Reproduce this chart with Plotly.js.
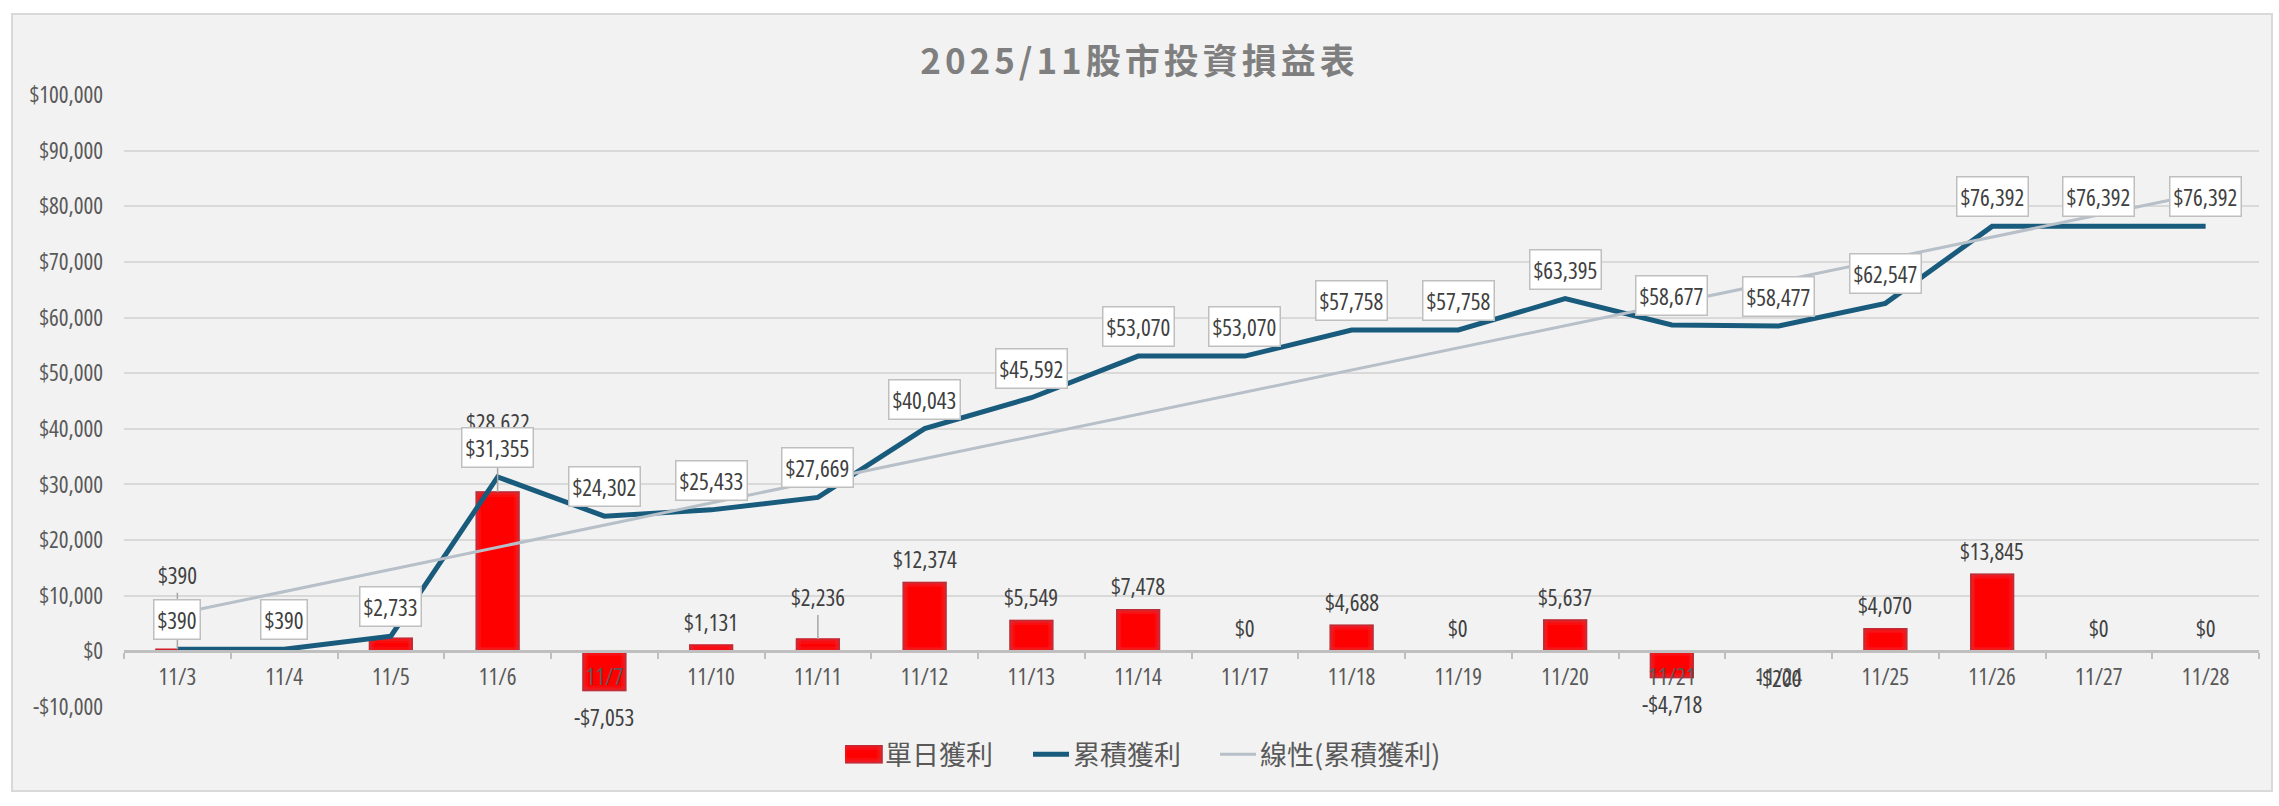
<!DOCTYPE html>
<html>
<head>
<meta charset="utf-8">
<script src="https://cdn.plot.ly/plotly-3.0.1.min.js"></script>
<style>
  html, body { margin: 0; padding: 0; background: #ffffff; }
  #chart { width: 2279px; height: 806px; }
  .gtitle { letter-spacing: 4px; }
  svg text { font-stretch: 77%; }
  .legendpoints path { d: path("M17,8.5H-23V-8.5H17Z"); }
  .legendlines path { d: path("M-6,0H36"); }
  .barlayer .point path, .legendpoints path { filter: url(#barShade); }
</style>
</head>
<body>
<svg width="0" height="0" style="position:absolute">
  <defs>
    <filter id="barShade" x="-20%" y="-20%" width="140%" height="140%">
      <feFlood flood-color="rgb(120,70,80)" flood-opacity="0.75" result="flood"/>
      <feComposite in="flood" in2="SourceAlpha" operator="out" result="outside"/>
      <feGaussianBlur in="outside" stdDeviation="3" result="blur"/>
      <feComposite in="blur" in2="SourceAlpha" operator="in" result="inner"/>
      <feMerge>
        <feMergeNode in="SourceGraphic"/>
        <feMergeNode in="inner"/>
      </feMerge>
    </filter>
  </defs>
</svg>
<div id="chart"></div>
<script>
// ---- data ----
const categories = ['11/3','11/4','11/5','11/6','11/7','11/10','11/11','11/12','11/13','11/14',
                    '11/17','11/18','11/19','11/20','11/21','11/24','11/25','11/26','11/27','11/28'];
const dailyProfit = [390, 0, 2343, 28622, -7053, 1131, 2236, 12374, 5549, 7478,
                     0, 4688, 0, 5637, -4718, -200, 4070, 13845, 0, 0];
const cumulativeProfit = [390, 390, 2733, 31355, 24302, 25433, 27669, 40043, 45592, 53070,
                          53070, 57758, 57758, 63395, 58677, 58477, 62547, 76392, 76392, 76392];
const trendCategories = ['11/3', '11/28'];
const trendValues = [6760, 82430];
const yTickValues = [-10000, 0, 10000, 20000, 30000, 40000, 50000, 60000, 70000, 80000, 90000, 100000];

// ---- styling (not data) ----
const numFont = "'Open Sans', sans-serif";
const cjkFont = "'Noto Sans CJK TC', 'Noto Sans', sans-serif";
const labelColor = '#404040';
const tickColor = '#595959';
const dailyLabelLift = { '11/3': 74, '11/6': 70, '11/11': 41.5 };

function fmt(v) {
  return (v < 0 ? '-' : '') + '$' + Math.abs(v).toLocaleString('en-US');
}

const traces = [
  {
    type: 'bar', name: '單日獲利', x: categories, y: dailyProfit, legend: 'legend',
    marker: { color: 'rgb(255,0,0)', line: { color: 'rgb(214,30,44)', width: 1.5 } },
    hoverinfo: 'skip'
  },
  {
    type: 'scatter', mode: 'lines', name: '累積獲利', x: categories, y: cumulativeProfit,
    legend: 'legend2', line: { color: '#195b7c', width: 5 }, hoverinfo: 'skip'
  },
  {
    type: 'scatter', mode: 'lines', name: '線性(累積獲利)', x: trendCategories, y: trendValues,
    legend: 'legend3', line: { color: '#b7bfc8', width: 3 }, hoverinfo: 'skip'
  }
];

const annotations = [];
categories.forEach(function (c, i) {
  const v = dailyProfit[i];
  const base = { x: c, y: v, xref: 'x', yref: 'y', text: fmt(v),
                 font: { family: numFont, size: 23, color: labelColor } };
  if (dailyLabelLift[c] !== undefined) {
    annotations.push(Object.assign(base, {
      showarrow: true, ax: 0, ay: -dailyLabelLift[c], arrowhead: 0, arrowwidth: 1.5,
      arrowcolor: '#a6a6a6', standoff: 0, startstandoff: 0
    }));
  } else {
    annotations.push(Object.assign(base, {
      showarrow: false, yanchor: 'middle', yshift: v < 0 ? -26 : 23.5
    }));
  }
});
categories.forEach(function (c, i) {
  const v = cumulativeProfit[i];
  annotations.push({
    x: c, y: v, xref: 'x', yref: 'y', text: fmt(v), showarrow: false,
    yanchor: 'middle', yshift: 29.5,
    font: { family: numFont, size: 23, color: labelColor },
    bgcolor: '#ffffff', bordercolor: '#bfbfbf', borderwidth: 1.5, borderpad: 3
  });
});

function legendAt(textLeftPx) {
  return {
    orientation: 'h', x: (textLeftPx - 42 - 124) / 2135, xanchor: 'left',
    y: -0.078, yanchor: 'middle',
    font: { family: cjkFont, size: 27, color: tickColor }, bgcolor: 'rgba(0,0,0,0)'
  };
}

const layout = {
  width: 2279, height: 806,
  margin: { l: 124, r: 20, t: 95, b: 99 },
  paper_bgcolor: '#ffffff',
  plot_bgcolor: 'rgba(0,0,0,0)',
  title: {
    text: '2025/11股市投資損益表',
    font: { family: cjkFont, size: 35, color: '#7f7f7f', weight: 'bold' },
    x: 0.5, xref: 'container', xanchor: 'center',
    y: 1 - 62 / 806, yref: 'container', yanchor: 'middle'
  },
  bargap: 0.6,
  showlegend: true,
  legend: legendAt(887),
  legend2: legendAt(1075),
  legend3: legendAt(1262),
  xaxis: {
    type: 'category', categoryorder: 'array', categoryarray: categories,
    anchor: 'free', position: 10000 / 110000,
    showline: true, linecolor: '#bfbfbf', linewidth: 3,
    ticks: 'outside', tickson: 'boundaries', ticklen: 6, tickwidth: 2, tickcolor: '#bfbfbf',
    showgrid: false, zeroline: false,
    tickfont: { family: numFont, size: 23, color: tickColor },
    ticklabelstandoff: 4
  },
  yaxis: {
    range: [-10000, 100000], autorange: false,
    tickmode: 'array', tickvals: yTickValues, ticktext: yTickValues.map(fmt),
    showgrid: true, gridcolor: '#d9d9d9', gridwidth: 2,
    zeroline: false, showline: false, ticks: '',
    tickfont: { family: numFont, size: 23, color: tickColor },
    ticklabelstandoff: 20
  },
  shapes: [{
    type: 'rect', xref: 'paper', yref: 'paper', layer: 'below',
    x0: (12 - 124) / 2135, x1: (2272 - 124) / 2135,
    y0: (707 - 791) / 612, y1: (707 - 14) / 612,
    fillcolor: '#f2f2f2', line: { color: '#d9d9d9', width: 2 }
  }],
  annotations: annotations
};

Plotly.newPlot('chart', traces, layout, { displayModeBar: false, staticPlot: true });
</script>
</body>
</html>
